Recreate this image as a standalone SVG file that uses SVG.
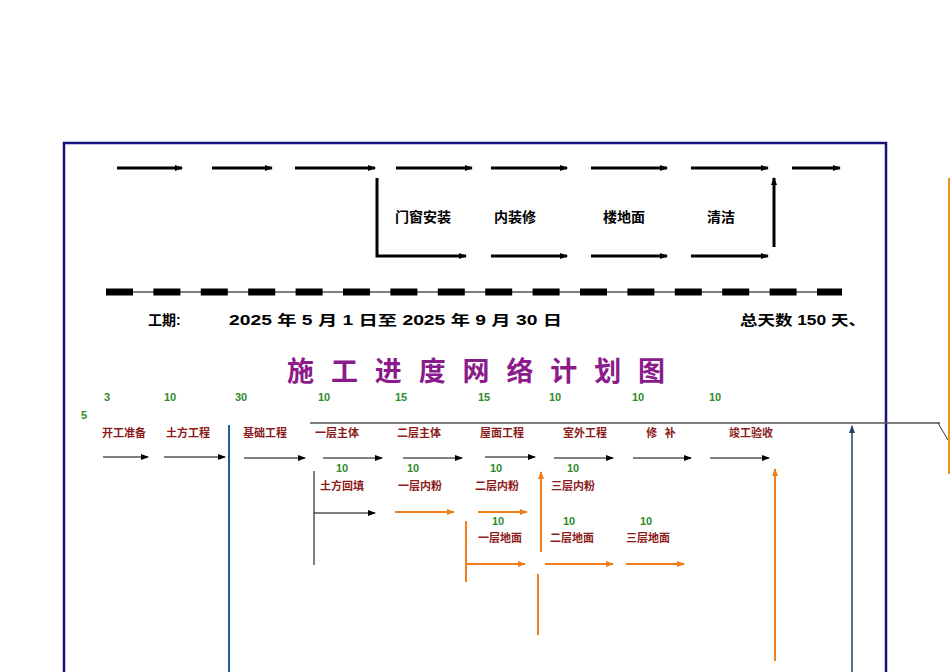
<svg xmlns="http://www.w3.org/2000/svg" width="950" height="672" viewBox="0 0 950 672">
<defs>
<marker id="ab" markerWidth="8" markerHeight="6" refX="7" refY="3" orient="auto" markerUnits="userSpaceOnUse"><path d="M0,0L8,3L0,6z" fill="#000"/></marker>
<marker id="ao" markerWidth="8" markerHeight="6" refX="7" refY="3" orient="auto" markerUnits="userSpaceOnUse"><path d="M0,0L8,3L0,6z" fill="#f07d1a"/></marker>
<marker id="an" markerWidth="8" markerHeight="6" refX="7" refY="3" orient="auto" markerUnits="userSpaceOnUse"><path d="M0,0L8,3L0,6z" fill="#1f3f6f"/></marker>
</defs>
<style>
.k{stroke:#000;stroke-width:3;fill:none}
.t{stroke:#000;stroke-width:1;fill:none}
.o{stroke:#f07d1a;stroke-width:2;fill:none}
.lb{font-family:"Liberation Sans","Noto Sans CJK SC",sans-serif;font-weight:bold;font-size:14px}
.r{font-family:"Noto Sans CJK SC",serif;font-weight:bold;font-size:11px;fill:#8b1a1a}
.g{font-family:"Liberation Sans",sans-serif;font-weight:bold;font-size:11px;fill:#2e8b2e}
</style>
<rect x="0" y="0" width="950" height="672" fill="#fff"/>
<rect x="64" y="143" width="822" height="540" fill="none" stroke="#14147a" stroke-width="2.5"/>
<g id="connectors">
<line class="k" x1="117" y1="168" x2="182" y2="168" marker-end="url(#ab)"/>
<line class="k" x1="212" y1="168" x2="272" y2="168" marker-end="url(#ab)"/>
<line class="k" x1="295" y1="168" x2="375" y2="168" marker-end="url(#ab)"/>
<line class="k" x1="396" y1="168" x2="472" y2="168" marker-end="url(#ab)"/>
<line class="k" x1="491" y1="168" x2="567" y2="168" marker-end="url(#ab)"/>
<line class="k" x1="591" y1="168" x2="667" y2="168" marker-end="url(#ab)"/>
<line class="k" x1="691" y1="168" x2="768" y2="168" marker-end="url(#ab)"/>
<line class="k" x1="792" y1="168" x2="840" y2="168" marker-end="url(#ab)"/>
<path class="k" d="M377,178V256H466" marker-end="url(#ab)"/>
<line class="k" x1="491" y1="256" x2="567" y2="256" marker-end="url(#ab)"/>
<line class="k" x1="591" y1="256" x2="667" y2="256" marker-end="url(#ab)"/>
<line class="k" x1="691" y1="256" x2="768" y2="256" marker-end="url(#ab)"/>
<line class="k" x1="774" y1="247" x2="774" y2="178" marker-end="url(#ab)"/>
<line x1="106" y1="292" x2="842" y2="292" stroke="#000" stroke-width="1"/>
<line x1="106" y1="292" x2="842" y2="292" stroke="#000" stroke-width="7" stroke-dasharray="27,20.4"/>
<line x1="310" y1="423" x2="940" y2="423" stroke="#555" stroke-width="1.3"/>
<line x1="938" y1="423" x2="948" y2="440" stroke="#333" stroke-width="1"/>
<line x1="949" y1="178" x2="949" y2="474" stroke="#e8961a" stroke-width="2"/>
<line x1="229" y1="425" x2="229" y2="672" stroke="#1f5f9f" stroke-width="2"/>
<line class="t" x1="103" y1="457" x2="148" y2="457" marker-end="url(#ab)"/>
<line class="t" x1="164" y1="457" x2="225" y2="457" marker-end="url(#ab)"/>
<line class="t" x1="244" y1="458" x2="305" y2="458" marker-end="url(#ab)"/>
<line class="t" x1="323" y1="458" x2="382" y2="458" marker-end="url(#ab)"/>
<line class="t" x1="403" y1="458" x2="462" y2="458" marker-end="url(#ab)"/>
<line class="t" x1="485" y1="457" x2="535" y2="457" marker-end="url(#ab)"/>
<line class="t" x1="554" y1="458" x2="613" y2="458" marker-end="url(#ab)"/>
<line class="t" x1="633" y1="458" x2="691" y2="458" marker-end="url(#ab)"/>
<line class="t" x1="710" y1="458" x2="769" y2="458" marker-end="url(#ab)"/>
<path class="t" d="M314,471V565M314,513H375" marker-end="url(#ab)"/>
<line class="o" x1="395" y1="512" x2="454" y2="512" marker-end="url(#ao)"/>
<line class="o" x1="478" y1="512" x2="527" y2="512" marker-end="url(#ao)"/>
<path class="o" d="M466,521V582M466,564H525" marker-end="url(#ao)"/>
<line class="o" x1="545" y1="564" x2="613" y2="564" marker-end="url(#ao)"/>
<line class="o" x1="626" y1="564" x2="684" y2="564" marker-end="url(#ao)"/>
<line class="o" x1="541" y1="552" x2="541" y2="472" marker-end="url(#ao)"/>
<line class="o" x1="538" y1="574" x2="538" y2="635"/>
<line class="o" x1="775" y1="661" x2="775" y2="469" marker-end="url(#ao)"/>
<line x1="852" y1="672" x2="852" y2="426" stroke="#1f3f6f" stroke-width="1.5" marker-end="url(#an)"/>
</g>
<g id="top-labels">
<text class="lb" x="423" y="222" text-anchor="middle" font-size="14">门窗安装</text>
<text class="lb" x="515" y="222" text-anchor="middle" font-size="14">内装修</text>
<text class="lb" x="624" y="222" text-anchor="middle" font-size="14">楼地面</text>
<text class="lb" x="721" y="222" text-anchor="middle" font-size="14">清洁</text>
</g>
<g id="period">
<text class="lb" x="148" y="325" font-size="17">工期:</text>
<text class="lb" x="229" y="325" font-size="17" textLength="333" lengthAdjust="spacingAndGlyphs">2025 年 5 月 1 日至 2025 年 9 月 30 日</text>
<text class="lb" x="740" y="325" font-size="17" textLength="126" lengthAdjust="spacingAndGlyphs">总天数 150 天、</text>
</g>
<g id="title"><text x="287" y="381" font-family="'Noto Sans CJK SC',serif" font-weight="bold" font-size="27" fill="#8b1a8b" textLength="378" lengthAdjust="spacing">施工进度网络计划图</text></g>
<g id="n1"><text class="g" x="107" y="401" text-anchor="middle">3</text><text class="g" x="84" y="419" text-anchor="middle">5</text><text class="r" x="124" y="437" text-anchor="middle">开工准备</text></g>
<g id="n2"><text class="g" x="170" y="401" text-anchor="middle">10</text><text class="r" x="188" y="437" text-anchor="middle">土方工程</text></g>
<g id="n3"><text class="g" x="241" y="401" text-anchor="middle">30</text><text class="r" x="265" y="437" text-anchor="middle">基础工程</text></g>
<g id="n4"><text class="g" x="324" y="401" text-anchor="middle">10</text><text class="r" x="337" y="437" text-anchor="middle">一层主体</text></g>
<g id="n5"><text class="g" x="401" y="401" text-anchor="middle">15</text><text class="r" x="419" y="437" text-anchor="middle">二层主体</text></g>
<g id="n6"><text class="g" x="484" y="401" text-anchor="middle">15</text><text class="r" x="502" y="437" text-anchor="middle">屋面工程</text></g>
<g id="n7"><text class="g" x="555" y="401" text-anchor="middle">10</text><text class="r" x="585" y="437" text-anchor="middle">室外工程</text></g>
<g id="n8"><text class="g" x="638" y="401" text-anchor="middle">10</text><text class="r" x="661" y="437" text-anchor="middle" xml:space="preserve">修   补</text></g>
<g id="n9"><text class="g" x="715" y="401" text-anchor="middle">10</text><text class="r" x="751" y="437" text-anchor="middle">竣工验收</text></g>
<g id="n10"><text class="g" x="342" y="472" text-anchor="middle">10</text><text class="r" x="342" y="490" text-anchor="middle">土方回填</text></g>
<g id="n11"><text class="g" x="413" y="472" text-anchor="middle">10</text><text class="r" x="420" y="490" text-anchor="middle">一层内粉</text></g>
<g id="n12"><text class="g" x="496" y="472" text-anchor="middle">10</text><text class="r" x="497" y="490" text-anchor="middle">二层内粉</text></g>
<g id="n13"><text class="g" x="573" y="472" text-anchor="middle">10</text><text class="r" x="573" y="490" text-anchor="middle">三层内粉</text></g>
<g id="n14"><text class="g" x="498" y="525" text-anchor="middle">10</text><text class="r" x="500" y="542" text-anchor="middle">一层地面</text></g>
<g id="n15"><text class="g" x="569" y="525" text-anchor="middle">10</text><text class="r" x="572" y="542" text-anchor="middle">二层地面</text></g>
<g id="n16"><text class="g" x="646" y="525" text-anchor="middle">10</text><text class="r" x="648" y="542" text-anchor="middle">三层地面</text></g>
</svg>
